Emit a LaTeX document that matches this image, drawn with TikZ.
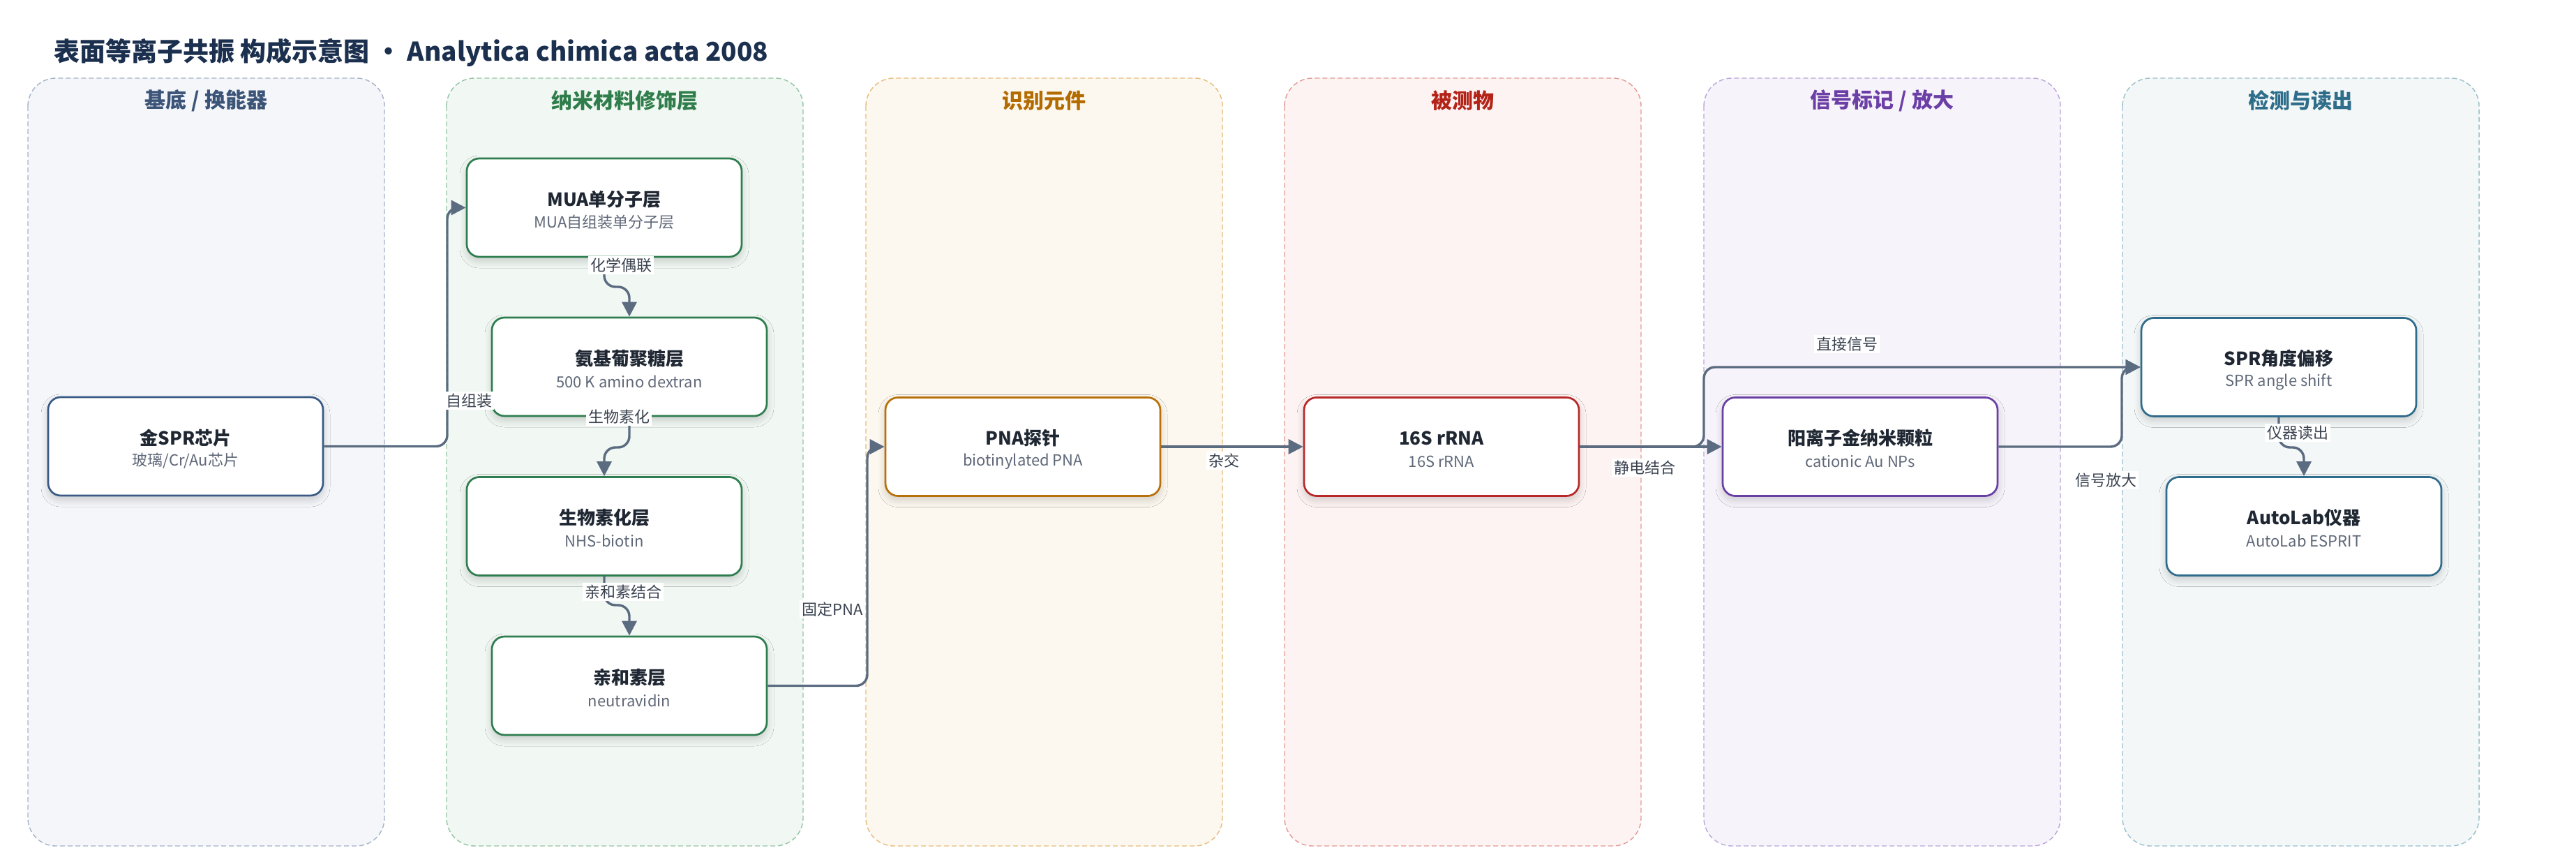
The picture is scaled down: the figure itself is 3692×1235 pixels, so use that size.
\documentclass[tikz,border=0pt]{standalone}
\usepackage{fontspec}
\setmainfont{Noto Sans CJK SC}
\usetikzlibrary{arrows.meta,shadows.blur,calc}
\definecolor{connC}{HTML}{5B6B80}
\definecolor{lblC}{HTML}{3A4250}
\definecolor{ttlC}{HTML}{1F2733}
\definecolor{subC}{HTML}{5F6878}
\definecolor{mainC}{HTML}{1B2F4E}
% lanes
\definecolor{fA}{HTML}{F4F6FA}\definecolor{dA}{HTML}{A5B3C8}\definecolor{hA}{HTML}{3C5478}
\definecolor{fB}{HTML}{F1F8F3}\definecolor{dB}{HTML}{94C4A3}\definecolor{hB}{HTML}{2E7D4A}
\definecolor{fC}{HTML}{FDF8EF}\definecolor{dC}{HTML}{E6BC7C}\definecolor{hC}{HTML}{B36B00}
\definecolor{fD}{HTML}{FDF3F2}\definecolor{dD}{HTML}{E29A96}\definecolor{hD}{HTML}{B42318}
\definecolor{fE}{HTML}{F7F3FB}\definecolor{dE}{HTML}{BCA6D9}\definecolor{hE}{HTML}{6B3FA5}
\definecolor{fF}{HTML}{F3F7F8}\definecolor{dF}{HTML}{9BBFCC}\definecolor{hF}{HTML}{2F6E8A}
% node borders
\definecolor{bA}{HTML}{3A5A85}
\definecolor{bB}{HTML}{2E7D4F}
\definecolor{bC}{HTML}{B8700A}
\definecolor{bD}{HTML}{B82828}
\definecolor{bE}{HTML}{6A3FA3}
\definecolor{bF}{HTML}{2F6B8A}
\begin{document}
\begin{tikzpicture}[x=0.5pt,y=-0.5pt,
  lane/.style 2 args={fill=#1,draw=#2,line width=0.7pt,dash pattern=on 3.5pt off 2pt,rounded corners=20pt},
  lanehead/.style={font=\bfseries\fontsize{15pt}{18pt}\selectfont,text=#1,inner sep=0pt},
  box/.style={draw=#1,fill=white,line width=1.35pt,rounded corners=9pt,minimum width=197pt,minimum height=70.5pt,
    blur shadow={shadow xshift=0pt,shadow yshift=-3pt,shadow blur radius=5pt,shadow blur steps=10,shadow opacity=18}},
  ttl/.style={font=\bfseries\fontsize{13pt}{15pt}\selectfont,text=ttlC,inner sep=0pt},
  sub/.style={font=\fontsize{11pt}{13pt}\selectfont,text=subC,inner sep=0pt},
  conn/.style={draw=connC,line width=1.7pt,rounded corners=8pt,-{Triangle[length=10.5pt,width=10.5pt]}},
  lbl/.style={fill=white,inner sep=1.5pt,font=\fontsize{11pt}{13pt}\selectfont,text=lblC}
]
\useasboundingbox (0,0) rectangle (3692,1235);
\fill[white] (0,0) rectangle (3692,1235);

% title
\node[anchor=west,inner sep=0pt,text=mainC,font=\bfseries\fontsize{18.5pt}{22pt}\selectfont] (title) at (77,75)
  {表面等离子共振 构成示意图 · Analytica chimica acta 2008};

% lanes
\draw[lane={fA}{dA}] (40,112) rectangle (551,1212);
\draw[lane={fB}{dB}] (640,112) rectangle (1151,1212);
\draw[lane={fC}{dC}] (1241,112) rectangle (1752,1212);
\draw[lane={fD}{dD}] (1841,112) rectangle (2352,1212);
\draw[lane={fE}{dE}] (2442,112) rectangle (2953,1212);
\draw[lane={fF}{dF}] (3042,112) rectangle (3553,1212);

\node[lanehead=hA] (h1) at (295.5,144) {基底 / 换能器};
\node[lanehead=hB] (h2) at (895.5,144) {纳米材料修饰层};
\node[lanehead=hC] (h3) at (1496.5,144) {识别元件};
\node[lanehead=hD] (h4) at (2096.5,144) {被测物};
\node[lanehead=hE] (h5) at (2697.5,144) {信号标记 / 放大};
\node[lanehead=hF] (h6) at (3297.5,144) {检测与读出};

% nodes
\node[box=bA] (chip) at (266,639.5) {};
\node[box=bB] (mua)  at (866,297.5) {};
\node[box=bB] (dex)  at (902,525.5) {};
\node[box=bB] (bio)  at (866,754) {};
\node[box=bB] (avi)  at (902,982.5) {};
\node[box=bC] (pna)  at (1466,640) {};
\node[box=bD] (rna)  at (2066,640) {};
\node[box=bE] (aunp) at (2666,640) {};
\node[box=bF] (spr)  at (3266,526) {};
\node[box=bF] (auto) at (3302,754) {};

\node[ttl] (chipT) at ($(chip.center)+(0,-12)$) {金SPR芯片};
\node[sub] (chipS) at ($(chip.center)+(0,21)$) {玻璃/Cr/Au芯片};
\node[ttl] (muaT) at ($(mua.center)+(0,-12)$) {MUA单分子层};
\node[sub] (muaS) at ($(mua.center)+(0,21)$) {MUA自组装单分子层};
\node[ttl] (dexT) at ($(dex.center)+(0,-12)$) {氨基葡聚糖层};
\node[sub] (dexS) at ($(dex.center)+(0,21)$) {500 K amino dextran};
\node[ttl] (bioT) at ($(bio.center)+(0,-12)$) {生物素化层};
\node[sub] (bioS) at ($(bio.center)+(0,21)$) {NHS-biotin};
\node[ttl] (aviT) at ($(avi.center)+(0,-12)$) {亲和素层};
\node[sub] (aviS) at ($(avi.center)+(0,21)$) {neutravidin};
\node[ttl] (pnaT) at ($(pna.center)+(0,-12)$) {PNA探针};
\node[sub] (pnaS) at ($(pna.center)+(0,21)$) {biotinylated PNA};
\node[ttl] (rnaT) at ($(rna.center)+(0,-12)$) {16S rRNA};
\node[sub] (rnaS) at ($(rna.center)+(0,21)$) {16S rRNA};
\node[ttl] (aunpT) at ($(aunp.center)+(0,-12)$) {阳离子金纳米颗粒};
\node[sub] (aunpS) at ($(aunp.center)+(0,21)$) {cationic Au NPs};
\node[ttl] (sprT) at ($(spr.center)+(0,-12)$) {SPR角度偏移};
\node[sub] (sprS) at ($(spr.center)+(0,21)$) {SPR angle shift};
\node[ttl] (autoT) at ($(auto.center)+(0,-12)$) {AutoLab仪器};
\node[sub] (autoS) at ($(auto.center)+(0,21)$) {AutoLab ESPRIT};

% routing coordinates
\coordinate (xA) at (641,0);
\coordinate (xB) at (1243,0);
\coordinate (xC) at (2442,0);
\coordinate (xD) at (3041,0);
\coordinate (j1) at (0,411);
\coordinate (j2) at (0,641);
\coordinate (j3) at (0,867);
\coordinate (j4) at (0,641);

% connectors
\draw[conn] (chip.east) -- (chip.east -| xA) -- (mua.west -| xA) -- (mua.west);
\draw[conn] (mua.south) -- (mua.south |- j1) -- (dex.north |- j1) -- (dex.north);
\draw[conn] (dex.south) -- (dex.south |- j2) -- (bio.north |- j2) -- (bio.north);
\draw[conn] (bio.south) -- (bio.south |- j3) -- (avi.north |- j3) -- (avi.north);
\draw[conn] (avi.east) -- (avi.east -| xB) -- (pna.west -| xB) -- (pna.west);
\draw[conn] (pna.east) -- (rna.west);
\draw[conn] (rna.east) -- (aunp.west);
\draw[conn] (rna.east) -- (rna.east -| xC) -- (spr.west -| xC) -- (spr.west);
\draw[conn] (aunp.east) -- (aunp.east -| xD) -- (spr.west -| xD) -- (spr.west);
\draw[conn] (spr.south) -- (spr.south |- j4) -- (auto.north |- j4) -- (auto.north);

% connector labels
\node[lbl] (l1) at (672,574) {自组装};
\node[lbl] (l2) at (890,380) {化学偶联};
\node[lbl] (l3) at (887,597) {生物素化};
\node[lbl] (l4) at (893,848) {亲和素结合};
\node[lbl] (l5) at (1193,873) {固定PNA};
\node[lbl] (l6) at (1754,660) {杂交};
\node[lbl] (l7) at (2357,670) {静电结合};
\node[lbl] (l8) at (2647,493) {直接信号};
\node[lbl] (l9) at (3018,688) {信号放大};
\node[lbl] (l10) at (3293,620) {仪器读出};
\end{tikzpicture}
\end{document}
